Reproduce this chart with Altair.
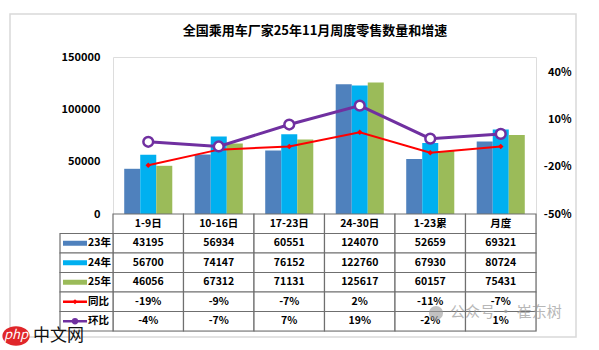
import altair as alt
import pandas as pd

# ---------------- data ----------------
title_text = "全国乘用车厂家25年11月周度零售数量和增速"
categories = ["1-9日", "10-16日", "17-23日", "24-30日", "1-23累", "月度"]
series_names = ["23年", "24年", "25年"]
s23 = [43195, 56934, 60551, 124070, 52659, 69321]
s24 = [56700, 74147, 76152, 122760, 67930, 80724]
s25 = [46056, 67312, 71131, 125617, 60157, 75431]
rate_names = ["同比", "环比"]
yoy = [-19, -9, -7, 2, -11, -7]
mom = [-4, -7, 7, 19, -2, 1]
bar_colors = ["#4F81BD", "#00B0F0", "#9BBB59"]
rate_colors = ["#FF0000", "#7030A0"]
left_ticks = [0, 50000, 100000, 150000]
right_ticks = [-50, -20, 10, 40]
header_row = "类别"
watermark_1 = "公众号 · 崔东树"
watermark_2 = "中文网"
watermark_logo = "php"

FONT = "Noto Sans CJK SC"
W, H = 423, 274
PLOT_H = 157

# ---------------- tables ----------------
bars_df = pd.DataFrame(
    [{"category": c, "series": s, "value": v}
     for s, vals in zip(series_names, [s23, s24, s25])
     for c, v in zip(categories, vals)]
)
rates_df = pd.DataFrame(
    [{"category": c, "series": s, "pct": v}
     for s, vals in zip(rate_names, [yoy, mom])
     for c, v in zip(categories, vals)]
)
rows = [header_row] + series_names + rate_names
table_records = [{"category": c, "row": header_row, "text": c} for c in categories]
for s, vals in zip(series_names, [s23, s24, s25]):
    table_records += [{"category": c, "row": s, "text": str(v)} for c, v in zip(categories, vals)]
for s, vals in zip(rate_names, [yoy, mom]):
    table_records += [{"category": c, "row": s, "text": f"{v}%"} for c, v in zip(categories, vals)]
table_df = pd.DataFrame(table_records)
legend_df = pd.DataFrame({
    "row": series_names + rate_names,
    "kind": ["bar"] * 3 + ["line"] * 2,
})
one = pd.DataFrame({"k": [0]})

all_names = series_names + rate_names
all_colors = bar_colors + rate_colors
color_scale = alt.Scale(domain=all_names, range=all_colors)

xscale = alt.Scale(domain=categories, paddingInner=0, paddingOuter=0)
X = alt.X("category:N", scale=xscale, axis=None)

# ---------------- bars ----------------
bars = alt.Chart(bars_df).mark_bar().encode(
    x=X,
    xOffset=alt.XOffset("series:N", scale=alt.Scale(domain=series_names, paddingInner=0, paddingOuter=0.7)),
    y=alt.Y("value:Q",
            scale=alt.Scale(domain=[0, 150000], range=[PLOT_H, 0], nice=False, zero=True),
            axis=alt.Axis(values=left_ticks, title=None, domain=False, ticks=False, grid=False,
                          labelFont=FONT, labelFontSize=11, labelFontWeight="bold",
                          labelColor="#000000", labelPadding=13, format="d", zindex=1)),
    color=alt.Color("series:N", scale=color_scale, legend=None),
)

# ---------------- lines ----------------
Yr = alt.Y("pct:Q",
           scale=alt.Scale(domain=[-50, 50], range=[PLOT_H, 0], nice=False, zero=False),
           axis=alt.Axis(orient="right", values=right_ticks, title=None, domain=False, ticks=False,
                         grid=False, labelFont=FONT, labelFontSize=11, labelFontWeight="bold",
                         labelColor="#000000", labelAlign="right", labelPadding=35,
                         labelExpr="datum.value + '%'", zindex=1))
rbase = alt.Chart(rates_df).encode(x=X, y=Yr)
red_line = rbase.transform_filter(alt.datum.series == "同比").mark_line(color=rate_colors[0], strokeWidth=2)
red_pts = rbase.transform_filter(alt.datum.series == "同比").mark_point(
    shape="diamond", filled=True, color=rate_colors[0], size=30, opacity=1)
pur_line = rbase.transform_filter(alt.datum.series == "环比").mark_line(color=rate_colors[1], strokeWidth=3)
pur_pts = rbase.transform_filter(alt.datum.series == "环比").mark_point(
    shape="circle", filled=False, fill="white", stroke=rate_colors[1], strokeWidth=2.5, size=95, opacity=1)
lines = alt.layer(red_line, red_pts, pur_line, pur_pts)

# ---------------- table ----------------
Yrow = alt.Y("row:N", scale=alt.Scale(type="band", domain=rows, range=[PLOT_H, H],
                                      paddingInner=0, paddingOuter=0), axis=None)
GRID = "#6f6f6f"
cells = alt.Chart(table_df).mark_rect(fill="white", stroke=GRID, strokeWidth=1.2).encode(x=X, y=Yrow)
leg_cells = alt.Chart(legend_df).mark_rect(fill="white", stroke=GRID, strokeWidth=1.2).encode(
    x=alt.value(-53), x2=alt.value(0), y=Yrow)
cell_text = alt.Chart(table_df).mark_text(font=FONT, fontSize=10.5, fontWeight="bold", color="#000000").encode(
    x=X, y=Yrow, text="text:N")
sw_bar = alt.Chart(legend_df).transform_filter(alt.datum.kind == "bar").mark_rule(strokeWidth=5).encode(
    x=alt.value(-50), x2=alt.value(-26), y=Yrow,
    color=alt.Color("row:N", scale=color_scale, legend=None))
sw_line = alt.Chart(legend_df).transform_filter(alt.datum.kind == "line").mark_rule(strokeWidth=2.5).encode(
    x=alt.value(-50), x2=alt.value(-26), y=Yrow,
    color=alt.Color("row:N", scale=color_scale, legend=None))
sw_red = alt.Chart(legend_df).transform_filter(alt.datum.row == "同比").mark_point(
    shape="diamond", filled=True, size=25, opacity=1, color=rate_colors[0]).encode(x=alt.value(-38), y=Yrow)
sw_pur = alt.Chart(legend_df).transform_filter(alt.datum.row == "环比").mark_point(
    shape="circle", filled=True, size=40, opacity=1, color=rate_colors[1]).encode(x=alt.value(-38), y=Yrow)
leg_text = alt.Chart(legend_df).mark_text(font=FONT, fontSize=10.5, fontWeight="bold", align="left",
                                         color="#000000").encode(
    x=alt.value(-25), y=Yrow, text="row:N")
table = alt.layer(cells, leg_cells, cell_text, sw_bar, sw_line, sw_red, sw_pur, leg_text)

# ---------------- decorations ----------------
border = alt.Chart(one).mark_rect(fill="white", fillOpacity=0, stroke="#d9d9d9", strokeWidth=1.5).encode(
    x=alt.value(-103), x2=alt.value(463), y=alt.value(-43), y2=alt.value(280))
title = alt.Chart(one).mark_text(text=title_text, font=FONT, fontSize=13, fontWeight="bold",
                                 color="#000000", align="center", baseline="middle").encode(
    x=alt.value(202), y=alt.value(-26))
wm1 = alt.Chart(one).mark_text(text=watermark_1, font=FONT, fontSize=15, color="#9a9a9a", opacity=0.7,
                               align="left", baseline="middle").encode(x=alt.value(337), y=alt.value(255))
wm_icon = alt.Chart(one).mark_point(shape="circle", filled=True, size=200, color="#9a9a9a", opacity=0.6).encode(
    x=alt.value(323), y=alt.value(256))
logo = alt.Chart(one).mark_point(shape="M-1.4,0 A1.4,1 0 1,0 1.4,0 A1.4,1 0 1,0 -1.4,0 Z", filled=True,
                                 size=380, color="#e0262a", opacity=1).encode(x=alt.value(-97), y=alt.value(279))
logo_t = alt.Chart(one).mark_text(text=watermark_logo, font=FONT, fontSize=13, fontStyle="italic",
                                  color="white", align="center", baseline="middle").encode(
    x=alt.value(-97), y=alt.value(278))
wm2 = alt.Chart(one).mark_text(text=watermark_2, font=FONT, fontSize=17, color="#111111",
                               align="left", baseline="middle").encode(x=alt.value(-80), y=alt.value(279))

chart = alt.layer(border, title, bars, lines, table, wm1, wm_icon, logo, logo_t, wm2).resolve_scale(
    y="independent"
).properties(
    width=W, height=H,
    autosize=alt.AutoSizeParams(type="none"),
    padding={"left": 113, "top": 57, "right": 63, "bottom": 19},
).configure_view(stroke=None).configure(font=FONT)

chart.save("out.html", embed_options={"renderer": "svg", "actions": False})
